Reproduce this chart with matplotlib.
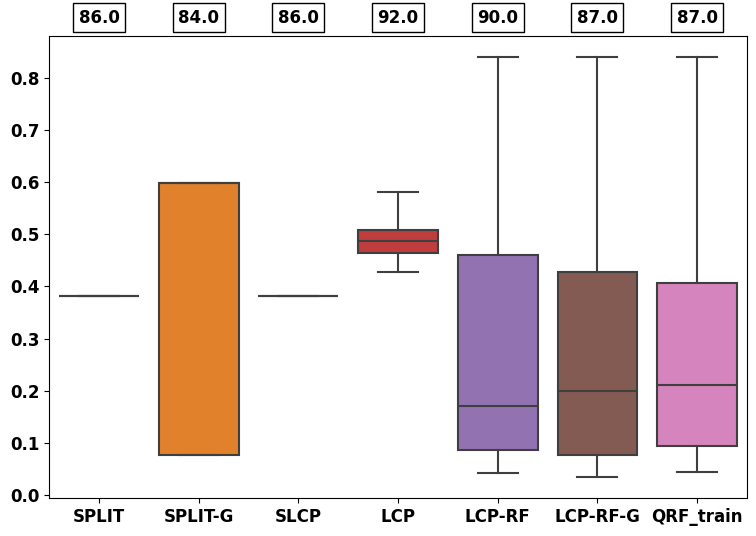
import matplotlib
matplotlib.use("Agg")
import matplotlib.pyplot as plt
import seaborn as sns

methods = ["SPLIT", "SPLIT-G", "SLCP", "LCP", "LCP-RF", "LCP-RF-G", "QRF_train"]
whislo = [0.382, 0.076, 0.382, 0.428, 0.041, 0.035, 0.043]
q1 = [0.382, 0.076, 0.382, 0.464, 0.087, 0.077, 0.093]
med = [0.382, 0.598, 0.382, 0.487, 0.170, 0.200, 0.210]
q3 = [0.382, 0.598, 0.382, 0.509, 0.460, 0.428, 0.406]
whishi = [0.382, 0.598, 0.382, 0.581, 0.840, 0.840, 0.840]
coverage = [86.0, 84.0, 86.0, 92.0, 90.0, 87.0, 87.0]

colors = sns.color_palette("tab10", len(methods), desat=0.75)
line_c = "#3f3f3f"

fig, ax = plt.subplots(figsize=(7.56, 5.36), dpi=100)

stats = []
for i, m in enumerate(methods):
    stats.append(dict(label=m, whislo=whislo[i], q1=q1[i], med=med[i],
                      q3=q3[i], whishi=whishi[i], fliers=[]))

bp = ax.bxp(stats, positions=range(len(methods)), widths=0.8, patch_artist=True,
            showfliers=False,
            boxprops=dict(edgecolor=line_c, linewidth=1.5),
            medianprops=dict(color=line_c, linewidth=1.5),
            whiskerprops=dict(color=line_c, linewidth=1.5),
            capprops=dict(color=line_c, linewidth=1.5))
for patch, c in zip(bp["boxes"], colors):
    patch.set_facecolor(c)
for cap in bp["caps"]:
    x0, x1 = cap.get_xdata()
    xc = (x0 + x1) / 2
    cap.set_xdata([xc - 0.2, xc + 0.2])

ax.set_xlim(-0.5, len(methods) - 0.5)
ax.set_ylim(-0.006, 0.881)
ax.set_yticks([0.0, 0.1, 0.2, 0.3, 0.4, 0.5, 0.6, 0.7, 0.8])
ax.set_xticks(range(len(methods)))
ax.set_xticklabels(methods)
for lab in ax.get_xticklabels() + ax.get_yticklabels():
    lab.set_fontweight("bold")
    lab.set_fontsize(12)

for i, cov in enumerate(coverage):
    ax.text(i, 0.916, f"{cov:.1f}", ha="center", va="center", fontsize=12,
            fontweight="bold", transform=ax.transData, clip_on=False,
            bbox=dict(facecolor="white", edgecolor="black", linewidth=1, pad=4))

plt.subplots_adjust(left=0.065, right=0.988, top=0.933, bottom=0.071)
plt.savefig("out.png", dpi=100)
